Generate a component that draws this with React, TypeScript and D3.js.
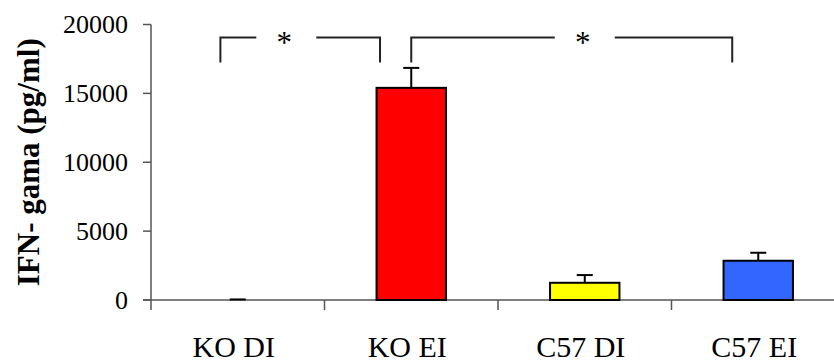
import React from "react";
import * as d3 from "d3";

// values
const categories = ["KO DI", "KO EI", "C57 DI", "C57 EI"];
const means = [0, 15400, 1250, 2850];
const errors = [40, 1450, 560, 580];
const fills = ["#ffffff", "#ff0000", "#ffff00", "#3366ff"];
const yTicks = [0, 5000, 10000, 15000, 20000];

// significance brackets: ends given as category + fraction of its band
const brackets = [
  { from: "KO DI", fromPos: 0.4, to: "KO EI", toPos: 0.32, star: "KO DI", starPos: 0.78 },
  { from: "KO EI", fromPos: 0.5, to: "C57 EI", toPos: 0.35, star: "C57 DI", starPos: 0.5 },
];
const bracketTop = 19050;
const bracketBottom = 17250;

const width = 834;
const height = 362;
const serif = "'Liberation Serif', 'Times New Roman', serif";

export default function App() {
  const x = d3.scaleBand().domain(categories).range([151, 845]).padding(0);
  const y = d3.scaleLinear().domain([0, 20000]).range([300, 24.5]);
  const bw = x.bandwidth();
  const barW = bw * 0.4;
  const capW = 16;
  const gapHalf = 30;

  return (
    <svg
      width={width}
      height={height}
      style={{ position: "absolute", left: 0, top: 0, background: "#fff" }}
    >
      {/* y axis */}
      <line x1={x.range()[0]} x2={x.range()[0]} y1={y(20000)} y2={y(0)} stroke="#555" strokeWidth={1.5} />
      {yTicks.map((t) => (
        <g key={"yt" + t}>
          <line x1={143} x2={151} y1={y(t)} y2={y(t)} stroke="#555" strokeWidth={1.5} />
          <text
            x={128}
            y={y(t)}
            dy="0.34em"
            textAnchor="end"
            fontFamily={serif}
            fontSize={26}
            fill="#000"
          >
            {t}
          </text>
        </g>
      ))}

      {/* x axis */}
      <line x1={143} x2={x.range()[1]} y1={y(0)} y2={y(0)} stroke="#555" strokeWidth={1.5} />
      {categories.map((c) => (
        <line
          key={"xt" + c}
          x1={x(c)!}
          x2={x(c)!}
          y1={y(0)}
          y2={y(0) + 10}
          stroke="#555"
          strokeWidth={1.5}
        />
      ))}
      {categories.map((c) => (
        <text
          key={"xl" + c}
          x={x(c)! + bw / 2 - 4}
          y={357}
          textAnchor="middle"
          fontFamily={serif}
          fontSize={30}
          fill="#000"
        >
          {c}
        </text>
      ))}

      {/* bars + error bars */}
      {categories.map((c, i) => {
        const cx = x(c)! + bw / 2;
        const top = y(means[i]);
        const errTop = y(means[i] + errors[i]);
        return (
          <g key={"bar" + c}>
            {means[i] > 0 && (
              <rect
                x={cx - barW / 2}
                y={top}
                width={barW}
                height={y(0) - top}
                fill={fills[i]}
                stroke="#000"
                strokeWidth={2}
              />
            )}
            <line x1={cx} x2={cx} y1={top} y2={errTop} stroke="#000" strokeWidth={2} />
            <line x1={cx - capW / 2} x2={cx + capW / 2} y1={errTop} y2={errTop} stroke="#000" strokeWidth={2} />
          </g>
        );
      })}

      {/* significance brackets */}
      {brackets.map((b, i) => {
        const x1 = x(b.from)! + bw * b.fromPos;
        const x2 = x(b.to)! + bw * b.toPos;
        const sx = x(b.star)! + bw * b.starPos;
        const yt = y(bracketTop);
        const yb = y(bracketBottom);
        return (
          <g key={"br" + i} stroke="#222" strokeWidth={2} fill="none">
            <path d={`M${x1},${yb}V${yt}H${sx - gapHalf}`} />
            <path d={`M${sx + gapHalf},${yt}H${x2}V${yb}`} />
            <text
              x={sx - 2}
              y={yt + 15}
              textAnchor="middle"
              fontFamily={serif}
              fontSize={31}
              fill="#000"
              stroke="none"
            >
              *
            </text>
          </g>
        );
      })}

      {/* y title */}
      <text
        transform={`translate(28, ${(y(0) + y(20000)) / 2}) rotate(-90)`}
        textAnchor="middle"
        dy="0.35em"
        fontFamily={serif}
        fontWeight="bold"
        fontSize={31}
        fill="#000"
      >
        IFN- gama (pg/ml)
      </text>
    </svg>
  );
}
